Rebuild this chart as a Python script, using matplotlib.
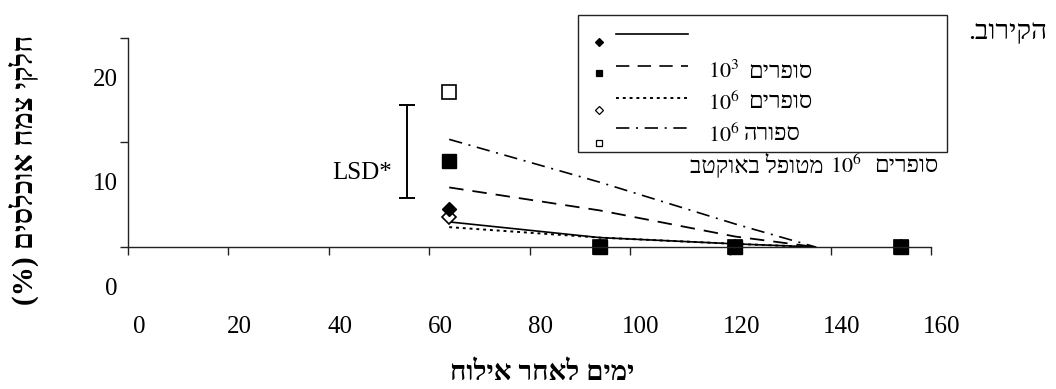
import matplotlib
matplotlib.use("Agg")
import matplotlib.pyplot as plt
from matplotlib.lines import Line2D
from matplotlib.patches import Rectangle

plt.rcParams['font.family'] = ['Liberation Serif', 'DejaVu Serif', 'DejaVu Sans']
plt.rcParams['mathtext.fontset'] = 'stix'

# measured points (day after inoculation, % colonised plant parts)
marker_days = [64, 94, 121, 154]
octave_1e6 = [3.6, 0, 0, 0]      # filled diamond
spores_1e3 = [8.2, 0, 0, 0]      # filled square
spores_1e6 = [2.9, 0, 0, 0]      # open diamond
spora_1e6 = [14.8, 0, 0, 0]      # open square

# fitted lines
line_days = [64, 94, 121, 137]
octave_line = [2.4, 0.9, 0.3, 0]
spores_1e3_line = [5.7, 3.5, 1.0, 0]
spores_1e6_line = [1.9, 0.9, 0.3, 0]
spora_line = [10.3, 6.2, 2.2, 0]

# LSD bar
lsd_x = 55.6
lsd_lo, lsd_hi = 4.7, 13.6

xticks = [0, 20, 40, 60, 80, 100, 120, 140, 160]
yticks = [0, 10, 20]

# hebrew strings are stored in visual (left to right) order
xlabel = "חוליא רחאל םימי"
ylabel = "(%) םיסלכוא חמצ יקלח"
top_note = ".בוריקה"
lab_spores = "םירפוס"
lab_spora = "הרופס"
lab_octave = "בטקואב לפוטמ"

W, H = 1056, 389
fig = plt.figure(figsize=(W / 100, H / 100), dpi=100)
k = 0.72  # px -> points

def fx(x):
    return x / W

def fy(y):
    return 1 - y / H

ax = fig.add_axes([fx(128), fy(247), (931 - 128) / W, (247 - 38) / H])
ax.set_xlim(0, 160)
ax.set_ylim(0, 20)
for s in ['top', 'right']:
    ax.spines[s].set_visible(False)
for s in ['left', 'bottom']:
    ax.spines[s].set_color('#222222')
    ax.spines[s].set_linewidth(1.0)
ax.set_xticks(xticks)
ax.set_yticks(yticks)
ax.tick_params(labelbottom=False, labelleft=False, direction='out',
               length=5.5, width=1.0, color='#222222')

fs = 18
for v in xticks:
    ax.annotate(str(v), (v, 0), xytext=(11 * k, -80 * k), textcoords='offset points',
                ha='center', va='center', fontsize=fs)
for v in yticks:
    ax.annotate(str(v), (0, v), xytext=(-10 * k, -42 * k), textcoords='offset points',
                ha='right', va='center', fontsize=fs)

dash = (0, (8, 5))
dot = (0, (1.5, 2))
dashdot = (0, (8, 4, 1.2, 4))

ax.plot(line_days, spora_line, color='k', lw=1.2, ls=dashdot)
ax.plot(line_days, spores_1e3_line, color='k', lw=1.3, ls=dash)
ax.plot(line_days, octave_line, color='k', lw=1.2, ls='-')
ax.plot(line_days, spores_1e6_line, color='k', lw=1.4, ls=dot)

ax.plot(marker_days, spora_1e6, ls='none', marker='s', ms=10, mfc='white', mec='k',
        mew=1.2, clip_on=False)
ax.plot(marker_days, spores_1e6, ls='none', marker='D', ms=7, mfc='white', mec='k',
        mew=1.2, clip_on=False)
ax.plot(marker_days, octave_1e6, ls='none', marker='D', ms=7, mfc='k', mec='k',
        clip_on=False)
ax.plot(marker_days, spores_1e3, ls='none', marker='s', ms=10, mfc='k', mec='k',
        clip_on=False)

ax.errorbar([lsd_x], [(lsd_lo + lsd_hi) / 2], yerr=[(lsd_hi - lsd_lo) / 2],
            color='k', lw=1.4, capsize=6, capthick=1.4)
ax.text(52.5, 7.1, "LSD*", ha='right', va='center', fontsize=fs)

fig.text(fx(542), fy(374), xlabel, ha='center', va='center', fontsize=20,
         fontweight='bold')
fig.text(fx(24), fy(170), ylabel, rotation=90, ha='center', va='center',
         fontsize=21, fontweight='bold')
fig.text(fx(1047), fy(32), top_note, ha='right', va='center', fontsize=20)

# legend box drawn by hand to keep the original layout
fig.add_artist(Rectangle((fx(578), fy(152)), (947 - 578) / W, (152 - 15) / H,
                         transform=fig.transFigure, fill=False, lw=1.0, ec='#222222'))
rows = [
    (34, 42, '-', 'D', 'k', 1.2),
    (66, 73, dash, 's', 'k', 1.2),
    (98, 110, dot, 'D', 'white', 1.4),
    (128, 143, dashdot, 's', 'white', 1.2),
]
for ly, my, ls, mk, fc, lw in rows:
    fig.add_artist(Line2D([fx(616), fx(688)], [fy(ly), fy(ly)], transform=fig.transFigure,
                          color='k', lw=lw, ls=ls))
    fig.add_artist(Line2D([fx(599)], [fy(my)], transform=fig.transFigure, ls='none',
                          marker=mk, ms=4.5 if mk == 's' else 4, mfc=fc, mec='k', mew=0.9))

nfs = 16
hfs = 17
fig.text(fx(708), fy(72), r"$10^{3}$", ha='left', va='center', fontsize=nfs)
fig.text(fx(812), fy(72), lab_spores, ha='right', va='center', fontsize=hfs)
fig.text(fx(708), fy(103), r"$10^{6}$", ha='left', va='center', fontsize=nfs)
fig.text(fx(812), fy(103), lab_spores, ha='right', va='center', fontsize=hfs)
fig.text(fx(708), fy(135), r"$10^{6}$", ha='left', va='center', fontsize=nfs)
fig.text(fx(744), fy(135), lab_spora, ha='left', va='center', fontsize=hfs)

fig.text(fx(824), fy(166), lab_octave, ha='right', va='center', fontsize=hfs)
fig.text(fx(846), fy(166), r"$10^{6}$", ha='center', va='center', fontsize=nfs)
fig.text(fx(938), fy(166), lab_spores, ha='right', va='center', fontsize=hfs)

fig.savefig("out.png", dpi=100)
